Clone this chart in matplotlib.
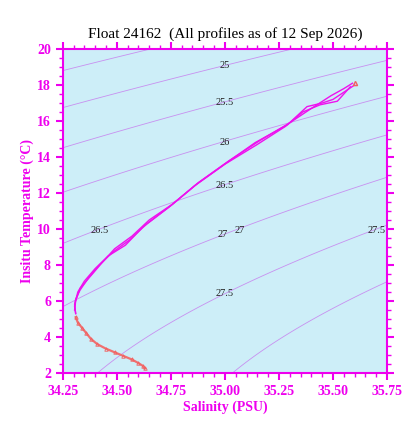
import numpy as np
import matplotlib
matplotlib.use("Agg")
import matplotlib.pyplot as plt
from matplotlib.ticker import MultipleLocator

plt.rcParams['font.family'] = ['Liberation Serif', 'DejaVu Serif']

# profile traces (salinity, temperature)
prof1_s = [35.59, 35.55, 35.49, 35.40, 35.30, 35.16, 35.02, 34.88, 34.75, 34.64, 34.56, 34.48, 34.42, 34.37, 34.33, 34.31, 34.305, 34.31]
prof1_t = [18.1, 17.8, 17.4, 16.7, 15.9, 14.9, 13.8, 12.6, 11.3, 10.3, 9.4, 8.7, 8.0, 7.3, 6.6, 6.1, 5.7, 5.3]
prof2_s = [35.58, 35.52, 35.44, 35.36, 35.28, 35.15, 35.00, 34.86, 34.74, 34.62, 34.54, 34.46, 34.40, 34.35, 34.32, 34.305, 34.31]
prof2_t = [17.9, 17.1, 16.9, 16.5, 15.7, 14.7, 13.6, 12.4, 11.2, 10.1, 9.1, 8.5, 7.8, 7.1, 6.5, 5.8, 5.3]
prof3_s = [35.60, 35.50, 35.45, 35.38, 35.29, 35.14, 35.01, 34.87, 34.76, 34.65, 34.57, 34.49, 34.43, 34.38, 34.33, 34.31, 34.305]
prof3_t = [18.0, 17.2, 17.0, 16.8, 15.8, 14.8, 13.7, 12.5, 11.4, 10.5, 9.6, 8.9, 8.1, 7.4, 6.7, 6.0, 5.5]
deep_s = [34.31, 34.32, 34.34, 34.36, 34.38, 34.41, 34.45, 34.49, 34.53, 34.57, 34.60, 34.62, 34.63]
deep_t = [5.1, 4.8, 4.5, 4.2, 3.9, 3.6, 3.35, 3.15, 2.95, 2.75, 2.55, 2.4, 2.25]

sig_levels = [24.5, 25, 25.5, 26, 26.5, 27, 27.5, 28]
lab_text = ['25', '25.5', '26', '26.5', '27', '27', '27.5', '26.5', '27.5']
lab_s = [35.0, 35.0, 35.0, 35.0, 34.99, 35.07, 35.0, 34.42, 35.70]
lab_t = [19.1, 17.05, 14.8, 12.4, 9.7, 9.9, 6.4, 9.9, 9.9]


def sigma_t(S, T):
    rw = (999.842594 + 6.793952e-2*T - 9.095290e-3*T**2 + 1.001685e-4*T**3
          - 1.120083e-6*T**4 + 6.536332e-9*T**5)
    A = (8.24493e-1 - 4.0899e-3*T + 7.6438e-5*T**2 - 8.2467e-7*T**3 + 5.3875e-9*T**4)
    B = -5.72466e-3 + 1.0227e-4*T - 1.6546e-6*T**2
    C = 4.8314e-4
    return rw + A*S + B*S**1.5 + C*S**2 - 1000.0


fig = plt.figure(figsize=(4.18, 4.30), dpi=100)
ax = fig.add_axes([0.150, 0.1326, 0.776, 0.7534])
ax.set_facecolor('#cdeef8')

ss, tt = np.meshgrid(np.linspace(34.25, 35.75, 200), np.linspace(2, 20, 200))
ax.contour(ss, tt, sigma_t(ss, tt), levels=sig_levels, colors='#c890f0', linewidths=0.6)
for txt, s, t in zip(lab_text, lab_s, lab_t):
    ax.text(s, t, txt, fontsize=7.5, ha='center', va='center', color='#222222')

for ps, pt in [(prof1_s, prof1_t), (prof2_s, prof2_t), (prof3_s, prof3_t)]:
    ax.plot(ps, pt, color='#ee11ee', lw=1.0)
ax.plot(deep_s, deep_t, color='#f07070', lw=1.6)
ax.plot(deep_s, deep_t, ls='none', marker='^', ms=2.5, mfc='none', mec='#f06060', mew=0.6)
ax.plot([35.60], [18.1], marker='^', ms=3, mfc='none', mec='#f06060')

ax.set_xlim(34.25, 35.75)
ax.set_ylim(2, 20)
ax.xaxis.set_major_locator(MultipleLocator(0.25))
ax.xaxis.set_minor_locator(MultipleLocator(0.05))
ax.yaxis.set_major_locator(MultipleLocator(2))
ax.yaxis.set_minor_locator(MultipleLocator(0.5))
ax.set_xticklabels([f'{v:.2f}' for v in ax.get_xticks()])
mag = '#ee00ee'
ax.tick_params(which='both', colors=mag, direction='out', top=True, right=True,
               labelcolor=mag, labelsize=10)
ax.tick_params(which='major', length=5, width=1.5)
ax.tick_params(which='minor', length=3, width=1)
for lbl in ax.get_xticklabels() + ax.get_yticklabels():
    lbl.set_fontweight('bold')
for sp in ax.spines.values():
    sp.set_color(mag)
    sp.set_linewidth(1.5)

ax.set_xlabel('Salinity (PSU)', color=mag, fontsize=10, fontweight='bold', labelpad=2)
ax.set_ylabel('Insitu Temperature (\u00b0C)', color=mag, fontsize=10, fontweight='bold', labelpad=2)
ax.set_title('Float 24162  (All profiles as of 12 Sep 2026)', fontsize=11, pad=8)

fig.savefig('out.png', dpi=100)
